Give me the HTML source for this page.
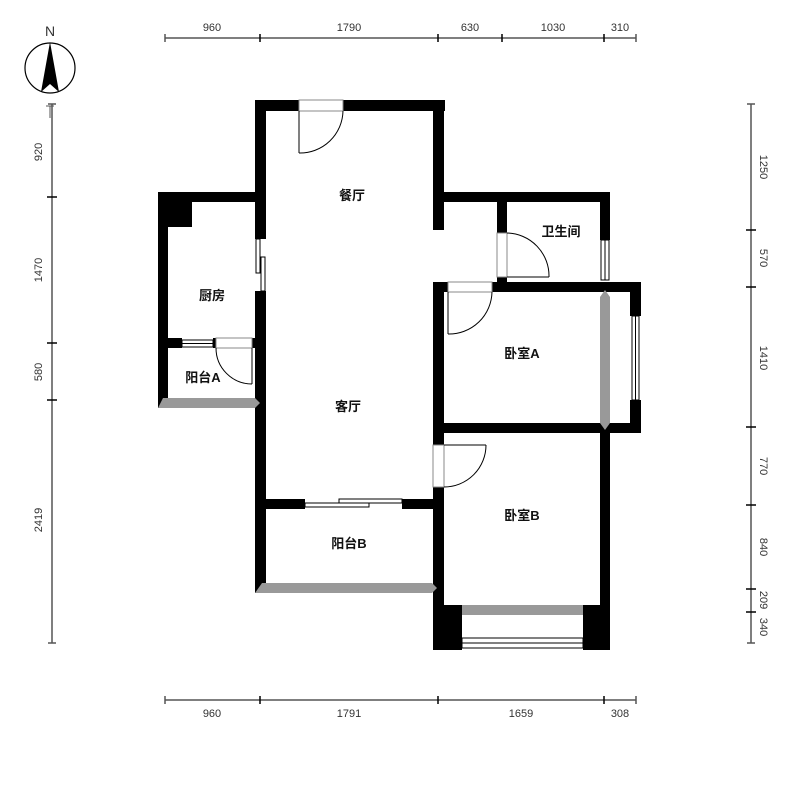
<!DOCTYPE html>
<html><head><meta charset="utf-8"><style>
html,body{margin:0;padding:0;background:#fff}
svg{display:block}
.t{font-family:"Liberation Sans","Noto Sans CJK SC",sans-serif;font-size:13px;font-weight:bold;fill:#111;text-anchor:middle}
.d{font-family:"Liberation Sans",sans-serif;font-size:11px;fill:#333;text-anchor:middle}
</style></head><body>
<svg width="800" height="801" viewBox="0 0 800 801" xmlns="http://www.w3.org/2000/svg">
<rect width="800" height="801" fill="#fff"/>
<!-- compass -->
<text x="50" y="36" class="d" style="font-size:14px">N</text>
<circle cx="50" cy="68" r="25" fill="none" stroke="#000" stroke-width="1.2"/>
<polygon points="50,42 41,92 50,84 59,92" fill="#000"/>
<line x1="50" y1="106" x2="50" y2="118" stroke="#555"/><line x1="46" y1="106" x2="54" y2="106" stroke="#555"/>
<!-- top ruler -->
<g stroke="#555" stroke-width="1.5">
<line x1="165" y1="38" x2="636" y2="38"/>
<line x1="165" y1="34" x2="165" y2="42"/><line x1="260" y1="34" x2="260" y2="42" stroke="#000"/><line x1="438" y1="34" x2="438" y2="42" stroke="#000"/><line x1="502" y1="34" x2="502" y2="42" stroke="#000"/><line x1="604" y1="34" x2="604" y2="42" stroke="#000"/><line x1="636" y1="34" x2="636" y2="42"/>
<line x1="165" y1="700" x2="636" y2="700"/>
<line x1="165" y1="696" x2="165" y2="704"/><line x1="260" y1="696" x2="260" y2="704" stroke="#000"/><line x1="438" y1="696" x2="438" y2="704" stroke="#000"/><line x1="604" y1="696" x2="604" y2="704" stroke="#000"/><line x1="636" y1="696" x2="636" y2="704"/>
<line x1="52" y1="104" x2="52" y2="643"/>
<line x1="48" y1="104" x2="56" y2="104"/><line x1="47" y1="197" x2="57" y2="197" stroke="#000"/><line x1="47" y1="343" x2="57" y2="343" stroke="#000"/><line x1="47" y1="400" x2="57" y2="400" stroke="#000"/><line x1="48" y1="643" x2="56" y2="643"/>
<line x1="751" y1="104" x2="751" y2="643"/>
<line x1="747" y1="104" x2="755" y2="104"/><line x1="746" y1="230" x2="756" y2="230" stroke="#000"/><line x1="746" y1="287" x2="756" y2="287" stroke="#000"/><line x1="746" y1="427" x2="756" y2="427" stroke="#000"/><line x1="746" y1="505" x2="756" y2="505" stroke="#000"/><line x1="746" y1="589" x2="756" y2="589" stroke="#000"/><line x1="746" y1="612" x2="756" y2="612" stroke="#000"/><line x1="747" y1="643" x2="755" y2="643"/>
</g>
<text class="d" x="212" y="31">960</text><text class="d" x="349" y="31">1790</text><text class="d" x="470" y="31">630</text><text class="d" x="553" y="31">1030</text><text class="d" x="620" y="31">310</text>
<text class="d" x="212" y="717">960</text><text class="d" x="349" y="717">1791</text><text class="d" x="521" y="717">1659</text><text class="d" x="620" y="717">308</text>
<g class="d">
<text class="d" transform="translate(42,152) rotate(-90)">920</text>
<text class="d" transform="translate(42,270) rotate(-90)">1470</text>
<text class="d" transform="translate(42,372) rotate(-90)">580</text>
<text class="d" transform="translate(42,520) rotate(-90)">2419</text>
<text class="d" transform="translate(760,167) rotate(90)">1250</text>
<text class="d" transform="translate(760,258) rotate(90)">570</text>
<text class="d" transform="translate(760,358) rotate(90)">1410</text>
<text class="d" transform="translate(760,466) rotate(90)">770</text>
<text class="d" transform="translate(760,547) rotate(90)">840</text>
<text class="d" transform="translate(760,600) rotate(90)">209</text>
<text class="d" transform="translate(760,627) rotate(90)">340</text>
</g>
<!-- walls -->
<g fill="#000">
<rect x="255" y="100" width="44" height="11"/><rect x="343" y="100" width="102" height="11"/>
<rect x="255" y="100" width="11" height="139"/><rect x="255" y="291" width="11" height="302"/>
<rect x="433" y="100" width="11" height="130"/>
<rect x="158" y="192" width="108" height="10"/>
<rect x="158" y="192" width="10" height="216"/><rect x="168" y="202" width="24" height="25"/>
<rect x="158" y="338" width="24" height="10"/><rect x="213" y="338" width="3" height="10"/><rect x="252" y="338" width="14" height="10"/>
<rect x="433" y="192" width="177" height="10"/>
<rect x="497" y="192" width="10" height="41"/><rect x="497" y="277" width="10" height="15"/>
<rect x="600" y="192" width="10" height="48"/>
<rect x="433" y="282" width="15" height="10"/><rect x="492" y="282" width="149" height="10"/>
<rect x="433" y="282" width="11" height="163"/>
<rect x="630" y="282" width="11" height="34"/><rect x="630" y="400" width="11" height="33"/>
<rect x="433" y="423" width="208" height="10"/>
<rect x="433" y="487" width="11" height="163"/>
<rect x="600" y="433" width="10" height="172"/>
<rect x="255" y="499" width="50" height="10"/><rect x="402" y="499" width="42" height="10"/>
<rect x="433" y="605" width="29" height="45"/><rect x="583" y="605" width="27" height="45"/>
</g>
<!-- gray bars -->
<g fill="#999">
<polygon points="158,408 163,398 255,398 260,403 255,408"/>
<polygon points="255,593 262,583 432,583 437,588 432,593"/>
<polygon points="605,290 610,297 610,423 605,430 600,423 600,297"/>
<rect x="462" y="605" width="121" height="10"/>
</g>
<!-- windows / sliding doors -->
<g fill="#fff" stroke="#000" stroke-width="1">
<rect x="182" y="340" width="31" height="7"/><line x1="182" y1="343.5" x2="213" y2="343.5"/>
<rect x="256" y="239" width="4" height="34"/><rect x="261" y="257" width="4" height="34"/>
<rect x="305" y="503" width="64" height="4"/><rect x="339" y="499" width="63" height="4"/>
<rect x="601" y="240" width="8" height="40"/><line x1="605" y1="240" x2="605" y2="280"/>
<rect x="632" y="316" width="7" height="84"/><line x1="635.5" y1="316" x2="635.5" y2="400"/>
<rect x="462" y="638" width="121" height="10"/><line x1="462" y1="643" x2="583" y2="643"/>
</g>
<!-- doors -->
<g fill="none" stroke="#000" stroke-width="1">
<rect x="299" y="100" width="44" height="11" stroke="#888"/>
<line x1="299" y1="111" x2="299" y2="153"/><path d="M299,153 A43,43 0 0 0 343,111"/>
<rect x="216" y="338" width="36" height="10" stroke="#888"/>
<line x1="252" y1="348" x2="252" y2="384"/><path d="M216,348 A36,36 0 0 0 252,384"/>
<rect x="497" y="233" width="10" height="44" stroke="#888"/>
<line x1="507" y1="277" x2="549" y2="277"/><path d="M507,233 A43,43 0 0 1 549,277"/>
<rect x="448" y="282" width="44" height="10" stroke="#888"/>
<line x1="448" y1="292" x2="448" y2="334"/><path d="M448,334 A43,43 0 0 0 492,292"/>
<rect x="433" y="445" width="11" height="42" stroke="#888"/>
<line x1="444" y1="445" x2="486" y2="445"/><path d="M486,445 A42,42 0 0 1 444,487"/>
</g>
<text class="t" x="352" y="200">餐厅</text>
<text class="t" x="561" y="236">卫生间</text>
<text class="t" x="212" y="300">厨房</text>
<text class="t" x="522" y="358">卧室A</text>
<text class="t" x="203" y="382">阳台A</text>
<text class="t" x="348" y="411">客厅</text>
<text class="t" x="522" y="520">卧室B</text>
<text class="t" x="349" y="548">阳台B</text>
</svg>
</body></html>
